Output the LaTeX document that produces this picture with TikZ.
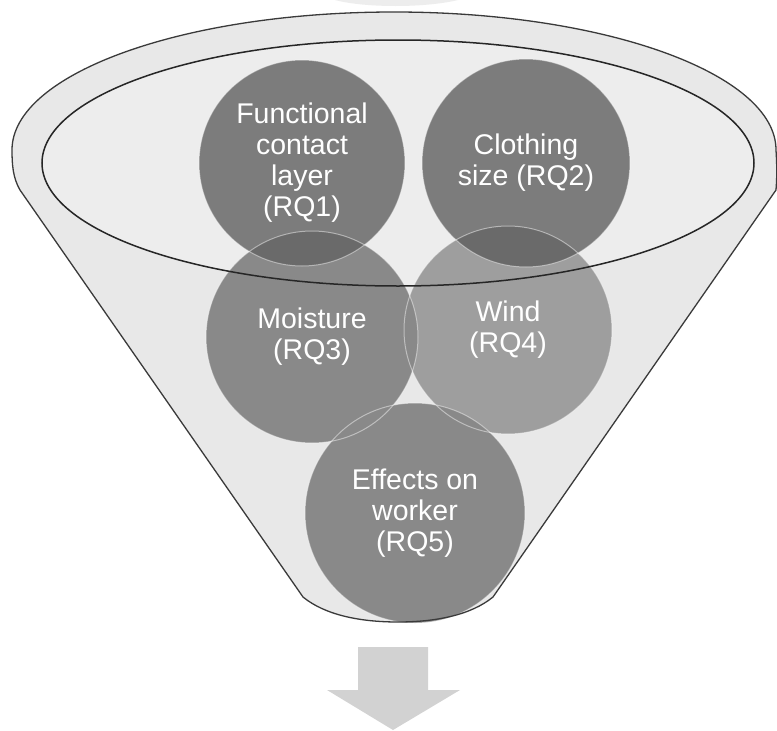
\documentclass[tikz,border=0pt]{standalone}
\usepackage{fontspec}
\setmainfont{Liberation Sans}
\newfontfamily\bubblefont{Liberation Sans}
\definecolor{darkbub}{HTML}{7C7C7C}
\definecolor{midbub}{HTML}{898989}
\definecolor{lightbub}{HTML}{9E9E9E}
\definecolor{lensgray}{HTML}{6A6A6A}
\definecolor{rimline}{HTML}{3A3A3A}
\definecolor{arrowgray}{HTML}{D2D2D2}
\tikzset{
  bubble/.style={circle, inner sep=0pt, text=white, align=center,
    font=\bubblefont\fontsize{28.5}{31}\selectfont},
  bubedge/.style={draw=white, draw opacity=0.45, line width=1pt},
  funneledge/.style={draw=rimline, line width=1.3pt, line join=round},
}
\begin{document}
\begin{tikzpicture}[x=1pt,y=-1pt]
\useasboundingbox (0,0) rectangle (777,731);
\fill[white] (0,0) rectangle (777,731);
% faint shape at the top
\fill[black!7] (335,0) .. controls (365,8) and (425,8) .. (458,0) -- cycle;
% funnel body
\shade[left color=black!9, middle color=white, right color=black!9]
  (12,150) arc[start angle=180, end angle=360, x radius=382, y radius=138]
  .. controls (777,165) and (777,178) .. (776,190)
  -- (493,597) .. controls (471,615) and (436,622) .. (398,622)
  .. controls (360,622) and (325,615) .. (303,597)
  -- (20,190) .. controls (13,178) and (12,165) .. (12,150) -- cycle;
% inner ellipse fill
\fill[black!7] (398,163) ellipse [x radius=356, y radius=123];
% circles
\node[bubble, fill=darkbub, minimum size=206pt] (rq1) at (302,163)
  {Functional\\contact\\layer\\(RQ1)};
\node[bubble, fill=darkbub, minimum size=208pt] (rq2) at (526,163)
  {Clothing\\size (RQ2)};
\node[bubble, fill=lightbub, minimum size=208pt] (rq4) at (508,330)
  {Wind\\(RQ4)};
\node[bubble, fill=midbub, minimum size=220pt] (rq5) at (415,513)
  {Effects on\\worker\\(RQ5)};
\node[bubble, fill=midbub, minimum size=212pt] (rq3) at (312,337)
  {Moisture\\(RQ3)};
% darker overlap lenses
\begin{scope}
  \clip (rq3.center) circle [radius=106];
  \fill[lensgray] (rq1.center) circle [radius=103];
\end{scope}
\begin{scope}
  \clip (rq4.center) circle [radius=104];
  \fill[lensgray] (rq2.center) circle [radius=104];
\end{scope}
% soft circle edges
\draw[bubedge] (rq1.center) circle [radius=103];
\draw[bubedge] (rq2.center) circle [radius=104];
\draw[bubedge] (rq4.center) circle [radius=104];
\draw[bubedge] (rq5.center) circle [radius=110];
\draw[bubedge] (rq3.center) circle [radius=106];
% inner ellipse outline
\draw[draw=black!85, line width=1.5pt] (398,163) ellipse [x radius=356, y radius=123];
% funnel outline
\draw[funneledge]
  (12,150) arc[start angle=180, end angle=360, x radius=382, y radius=138]
  .. controls (777,165) and (777,178) .. (776,190)
  -- (493,597) .. controls (471,615) and (436,622) .. (398,622)
  .. controls (360,622) and (325,615) .. (303,597)
  -- (20,190) .. controls (13,178) and (12,165) .. (12,150) -- cycle;
% down arrow
\fill[arrowgray] (358,647) -- (428,647) -- (428,690) -- (460,690)
  -- (393,730) -- (327,690) -- (358,690) -- cycle;
\end{tikzpicture}
\end{document}
